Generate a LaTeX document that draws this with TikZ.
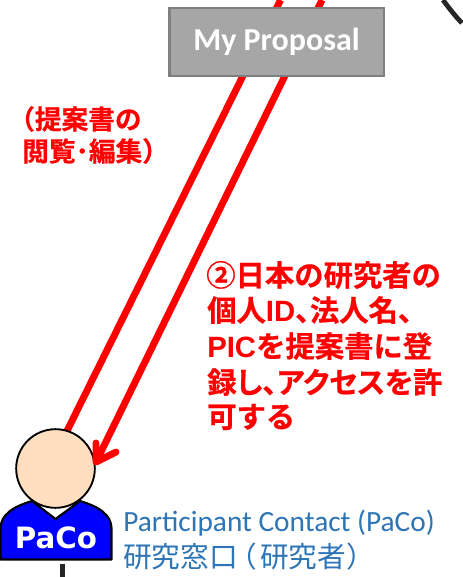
\documentclass[tikz,border=0pt]{standalone}
\usepackage{fontspec}
\setmainfont{Carlito}
\newfontfamily\cjk[RawFeature=+palt]{Noto Sans CJK JP}
\newfontfamily\cjkb[FakeBold=0.6]{Noto Sans CJK JP Bold}
\newfontfamily\cjkp[FakeBold=0.6,RawFeature=+palt]{Noto Sans CJK JP Bold}
\newfontfamily\latb{Liberation Sans Bold}
\newfontfamily\dvb{DejaVu Sans Bold}
\definecolor{paleskin}{HTML}{FFDFC0}
\definecolor{linkblue}{HTML}{2E75B6}
\definecolor{boxgray}{HTML}{A6A6A6}
\definecolor{boxedge}{HTML}{7F7F7F}
\definecolor{darkline}{HTML}{262626}
\tikzset{
  redline/.style={draw=red,line width=5.2pt},
  redlabel/.style={text=red,anchor=west,inner sep=0pt},
  bluelabel/.style={text=linkblue,anchor=base west,inner sep=0pt},
  figline/.style={draw=black,line width=1.6pt,line join=round}
}
\begin{document}
\begin{tikzpicture}[x=0.75pt,y=-0.75pt]
\useasboundingbox (0,0) rectangle (462,577);
\fill[white] (0,0) rectangle (462,577);
% dark arc top right
\coordinate (arcA) at (443,0);
\coordinate (arcB) at (462,23);
\draw[darkline,line width=3.6pt] (arcA) .. controls (449,8) and (455,16) .. (arcB);
% stub
\coordinate (stubA) at (62.5,564);
\coordinate (stubB) at (62.5,577);
\draw[darkline,line width=4pt] (stubA) -- (stubB);
% upward line and downward line
\coordinate (l1a) at (280.5,0);
\coordinate (l1b) at (62,441);
\coordinate (l2a) at (322,0);
\coordinate (l2b) at (96,462);
\draw[redline] (l1a) -- (l1b);
% figure
\draw[figline,fill=blue] (0.5,528)
  .. controls (1,515) and (12,507) .. (32,501) -- (55.5,519) -- (80,501)
  .. controls (100,507) and (111,515) .. (111.5,528) -- (111.5,559.5) -- (0.5,559.5) -- cycle;
\node[circle,draw=black,line width=1.4pt,fill=paleskin,minimum size=59pt,inner sep=0pt] (head) at (55.5,468.5) {};
\node[text=white,inner sep=0pt,font=\dvb\fontsize{22}{24}\selectfont] (paco) at (56,538) {PaCo};
% arrow
\draw[redline] (l2a) -- (l2b);
\coordinate (h1) at (96,443);
\coordinate (h2) at (116,452);
\draw[redline,line cap=round,line join=round] (h1) -- (l2b) -- (h2);
% box
\node[draw=boxedge,line width=2pt,fill=boxgray,text=white,minimum width=161pt,minimum height=51pt,inner sep=0pt,font=\bfseries\fontsize{24}{28}\selectfont] (prop) at (276.5,42) {My Proposal};
% red texts
\node[redlabel,font=\cjkb\fontsize{20}{22}\selectfont] (t1) at (8,119) {（提案書の};
\node[redlabel,font=\cjkb\fontsize{20}{22}\selectfont] (t2) at (22,151) {閲覧･編集）};
\node[redlabel,font=\cjkb\fontsize{22}{24}\selectfont] (m1) at (206,275) {②日本の研究者の};
\node[redlabel,font=\cjkp\fontsize{22}{24}\selectfont] (m2) at (207,310) {個人{\latb ID}、法人名、};
\node[redlabel,font=\cjkb\fontsize{22}{24}\selectfont] (m3) at (207,346) {{\latb PIC}を提案書に登};
\node[redlabel,font=\cjkp\fontsize{22}{24}\selectfont] (m4) at (207,382) {録し、アクセスを許};
\node[redlabel,font=\cjkb\fontsize{22}{24}\selectfont] (m5) at (207,417) {可する};
% blue texts
\node[bluelabel,font=\fontsize{22}{26}\selectfont] (b1) at (123,531) {Participant Contact (PaCo)};
\node[bluelabel,font=\cjk\fontsize{21.5}{26}\selectfont] (b2) at (123,567) {研究窓口\kern3pt（\kern3pt研究者\kern1pt）};
\end{tikzpicture}
\end{document}
